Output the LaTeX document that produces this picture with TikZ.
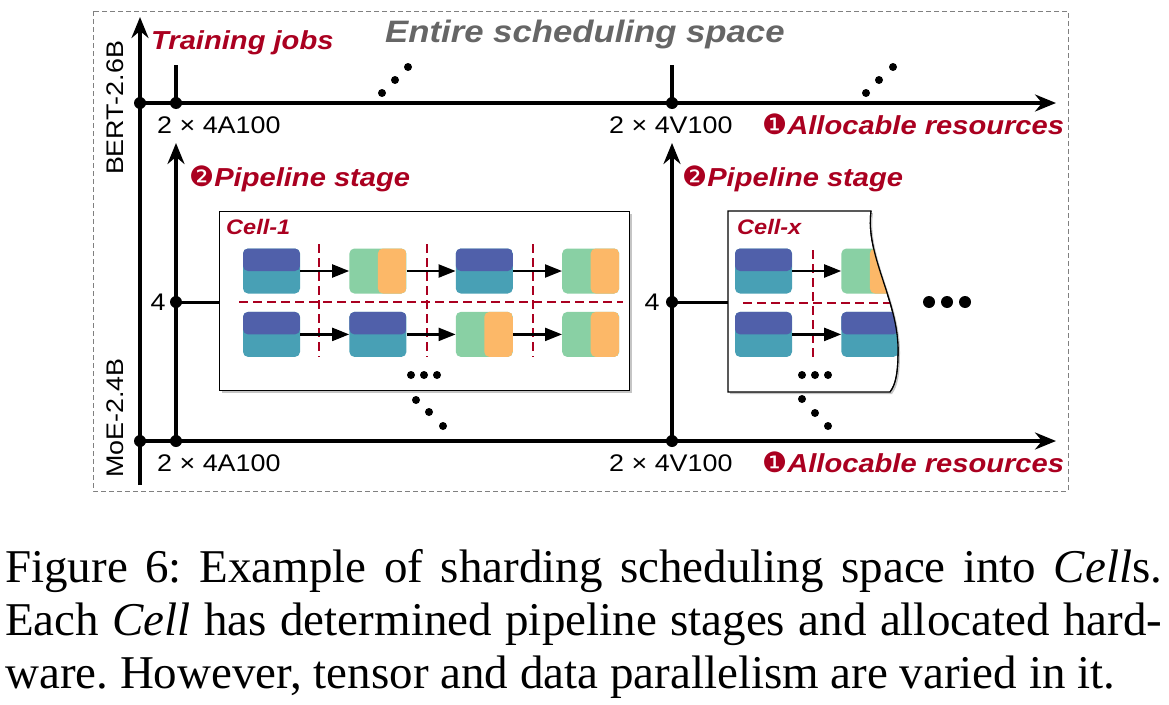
\documentclass[tikz,border=0pt]{standalone}
\usepackage{fontspec}
\setmainfont{Liberation Serif}
\setsansfont[FakeStretch=1.12]{Liberation Sans}
\newfontfamily\dingfont{DejaVu Sans}
\usetikzlibrary{positioning,arrows.meta,shadows}
\definecolor{cellred}{RGB}{170,0,32}
\definecolor{spacegray}{RGB}{102,102,102}
\definecolor{dptop}{RGB}{80,96,170}
\definecolor{dpbot}{RGB}{72,160,181}
\definecolor{tpleft}{RGB}{137,208,164}
\definecolor{tpright}{RGB}{252,184,104}
\newcommand{\stepmark}[1]{{\dingfont\mdseries\upshape\fontsize{28}{28}\selectfont #1}}
\frenchspacing

\begin{document}
\begin{tikzpicture}[x=1pt, y=-1pt, inner sep=0pt,
    axis/.style={line width=3.4pt, -{Stealth[length=21pt, width=17pt, inset=7pt]}},
    tickline/.style={line width=3.2pt},
    stub/.style={line width=3pt},
    gpu/.style={anchor=base west, font=\sffamily\fontsize{24}{28}\selectfont},
    redlabel/.style={anchor=base west, text=cellred,
        font=\sffamily\bfseries\itshape\fontsize{26}{30}\selectfont},
    model/.style={rotate=90, font=\sffamily\fontsize{24}{28}\selectfont},
    cellbox/.style={draw, line width=1.1pt, fill=white,
        drop shadow={shadow xshift=2pt, shadow yshift=-2pt, fill=black!45}},
    celltitle/.style={anchor=base west, text=cellred,
        font=\sffamily\bfseries\itshape\fontsize{21}{25}\selectfont},
    stage/.style={minimum width=57pt, minimum height=45pt, rounded corners=5pt},
    dp/.style={stage, fill=dpbot, path picture={
        \fill[dptop] (path picture bounding box.north west) rectangle (path picture bounding box.east);}},
    tp/.style={stage, fill=tpleft, path picture={
        \fill[tpright] (path picture bounding box.north) rectangle (path picture bounding box.south east);}},
    flow/.style={line width=2.2pt, -{Triangle[length=17pt, width=13pt]}},
    cut/.style={cellred, line width=2.3pt, dash pattern=on 9pt off 5pt},
    caption/.style={anchor=base west, font=\fontsize{47}{54}\selectfont}
    ]
    \useasboundingbox (0,0) rectangle (1169,704);
    \draw[gray, line width=1pt, dash pattern=on 5pt off 3pt] (93,11) rectangle (1068,491);

    \coordinate (bert) at (140,103);
    \coordinate (moe) at (140,441);
    \coordinate (a100 top) at (176,103);
    \coordinate (v100 top) at (672,103);
    \coordinate (a100 bot) at (176,441);
    \coordinate (v100 bot) at (672,441);
    \coordinate (jobs end) at (140,17);
    \coordinate (jobs start) at (140,485);
    \coordinate (res end top) at (1056,103);
    \coordinate (res end bot) at (1056,441);
    \coordinate (stage end a) at (176,143);
    \coordinate (stage end b) at (672,143);

    \draw[axis] (jobs start) -- (jobs end);
    \draw[axis] (bert) -- (res end top);
    \draw[axis] (moe) -- (res end bot);
    \draw[axis] (a100 bot) -- (stage end a);
    \draw[axis] (v100 bot) -- (stage end b);
    \draw[tickline] (a100 top) -- +(0,-38);
    \draw[tickline] (v100 top) -- +(0,-38);
    \foreach \p in {bert, moe, a100 top, v100 top, a100 bot, v100 bot}
        \fill (\p) circle (6pt);

    \node[redlabel] (jobs) at (151,49) {Training jobs};
    \node[anchor=base west, text=spacegray, font=\sffamily\bfseries\itshape\fontsize{31}{36}\selectfont] (space) at (385,42) {Entire scheduling space};
    \node[model] (bert lab) at (115,108) {BERT-2.6B};
    \node[model] (moe lab) at (115,418) {MoE-2.4B};
    \node[gpu] (a100 lab top) at (157,133) {2 × 4A100};
    \node[gpu] (v100 lab top) at (609,133) {2 × 4V100};
    \node[gpu] (a100 lab bot) at (157,471) {2 × 4A100};
    \node[gpu] (v100 lab bot) at (609,471) {2 × 4V100};
    \node[redlabel] (res lab top) at (762,134) {\stepmark{❶}Allocable resources};
    \node[redlabel] (res lab bot) at (762,472) {\stepmark{❶}Allocable resources};
    \node[redlabel] (stage lab a) at (189,186) {\stepmark{❷}Pipeline stage};
    \node[redlabel] (stage lab b) at (682,186) {\stepmark{❷}Pipeline stage};

    \node[cellbox, anchor=north west, minimum width=410pt, minimum height=179pt] (cell1) at (219,211) {};
    \node[celltitle] (cell1 lab) at (226,234) {Cell-1};
    \node[dp] (a1) at (271.5,271) {};
    \node[tp, right=49pt of a1] (a2) {};
    \node[dp, right=49pt of a2] (a3) {};
    \node[tp, right=49pt of a3] (a4) {};
    \node[dp, below=18pt of a1] (b1) {};
    \node[dp, right=49pt of b1] (b2) {};
    \node[tp, right=49pt of b2] (b3) {};
    \node[tp, right=49pt of b3] (b4) {};
    \foreach \x in {319,427,533}
        \draw[cut] (\x,244) -- (\x,357);
    \draw[cut] (239,302) -- (623,302);
    \draw[flow] (a1) -- (a2);
    \draw[flow] (a2) -- (a3);
    \draw[flow] (a3) -- (a4);
    \draw[flow] (b1) -- (b2);
    \draw[flow] (b2) -- (b3);
    \draw[flow] (b3) -- (b4);

    \draw[cellbox] (728,211) -- (871,211) .. controls (865,255) and (898,300) .. (898,350)
        .. controls (898,372) and (896,384) .. (890,392) -- (728,392) -- cycle;
    \begin{scope}
        \clip (728,211) -- (871,211) .. controls (865,255) and (898,300) .. (898,350)
            .. controls (898,372) and (896,384) .. (890,392) -- (728,392) -- cycle;
        \node[dp] (c1) at (763.5,271) {};
        \node[tp, right=49pt of c1] (c2) {};
        \node[dp, below=18pt of c1] (d1) {};
        \node[dp, right=49pt of d1] (d2) {};
        \draw[cut] (813,250) -- (813,357);
        \draw[cut] (743,303) -- (900,303);
        \draw[flow] (c1) -- (c2);
        \draw[flow] (d1) -- (d2);
    \end{scope}
    \draw[line width=1.1pt] (871,211) .. controls (865,255) and (898,300) .. (898,350)
        .. controls (898,372) and (896,384) .. (890,392);
    \node[celltitle] (cellx lab) at (737,234) {Cell-x};

    \node[gpu, anchor=center] (four a) at (158,302) {4};
    \node[gpu, anchor=center] (four b) at (652,302) {4};
    \fill (176,302) circle (6pt) coordinate (stub a);
    \fill (672,302) circle (6pt) coordinate (stub b);
    \coordinate (cellx west) at (728,302);
    \draw[stub] (stub a) -- (cell1.west |- stub a);
    \draw[stub] (stub b) -- (cellx west);

    \foreach \x/\y in {382/93, 395/80, 408/67, 866/93, 879/80, 893/67,
        411/375, 424/375, 437/375, 416/400, 429/412, 443/426,
        802/375, 815/375, 828/375, 802/399, 815/413, 828/426}
        \fill (\x,\y) circle (4pt);
    \foreach \x in {929,947,965}
        \fill (\x,302) circle (6pt);

    \node[caption] (cap1) at (5,582) {\makebox[1157pt][s]{Figure 6: Example of sharding scheduling space into \textit{Cell}s.}};
    \node[caption] (cap2) at (5,635) {\makebox[1157pt][s]{Each \textit{Cell} has determined pipeline stages and allocated hard-}};
    \node[caption] (cap3) at (5,688) {ware. However, tensor and data parallelism are varied in it.};
\end{tikzpicture}
\end{document}
